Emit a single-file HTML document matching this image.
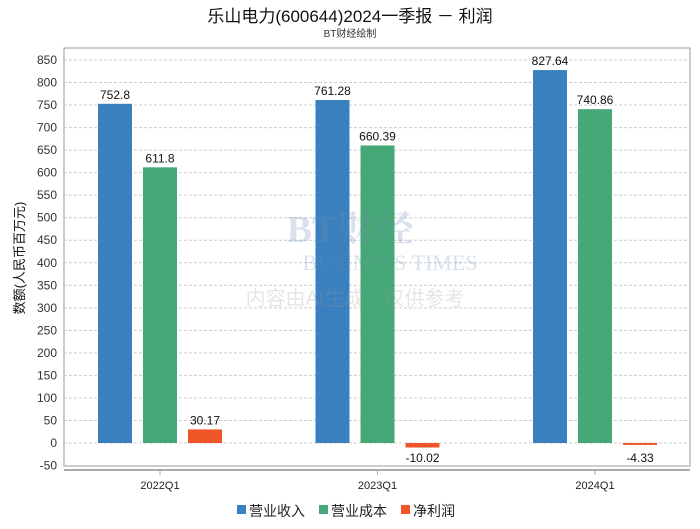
<!DOCTYPE html>
<html><head><meta charset="utf-8"><style>
body{margin:0;background:#fff;width:700px;height:524px;overflow:hidden;font-family:"Liberation Sans","Noto Sans CJK SC",sans-serif;}
</style></head><body>
<svg id="c" width="700" height="524" xmlns="http://www.w3.org/2000/svg" font-family="Liberation Sans, Noto Sans CJK SC, sans-serif">
<text x="350" y="22" text-anchor="middle" font-size="17" fill="#111">乐山电力(600644)2024一季报 － 利润</text>
<text x="350" y="37" text-anchor="middle" font-size="10" fill="#333">BT财经绘制</text>
<rect x="64" y="48" width="626" height="418" fill="none" stroke="#999"/>
<line x1="64" y1="470" x2="690" y2="470" stroke="#aaa" stroke-width="2"/>
<g id="grid"></g><g id="bars"></g>
<g opacity="0.25">
<text x="350" y="242" text-anchor="middle" font-size="38" fill="#6a8fb5" font-family="Liberation Serif, Noto Serif CJK SC, serif" font-weight="bold">BT财经</text>
<text x="390" y="270" text-anchor="middle" font-size="22" fill="#6a8fb5" font-family="Liberation Serif, serif">BUSINESS TIMES</text>
<text x="355" y="305" text-anchor="middle" font-size="20" fill="#999">内容由AI生成，仅供参考</text>
</g>
<text transform="translate(24,258) rotate(-90)" text-anchor="middle" font-size="13" fill="#111">数额(人民币百万元)</text>
<g font-size="14" fill="#222">
<rect x="237" y="505" width="9" height="9" fill="#3a80be"/><text x="249" y="516">营业收入</text>
<rect x="319" y="505" width="9" height="9" fill="#45a876"/><text x="331" y="516">营业成本</text>
<rect x="401" y="505" width="9" height="9" fill="#f05527"/><text x="413" y="516">净利润</text>
</g>
</svg>
<script>
const categories=["2022Q1","2023Q1","2024Q1"];
const revenue=[752.8,761.28,827.64];
const cost=[611.8,660.39,740.86];
const profit=[30.17,-10.02,-4.33];
const revenueLabels=["752.8","761.28","827.64"];
const costLabels=["611.8","660.39","740.86"];
const profitLabels=["30.17","-10.02","-4.33"];
const yTicks=[-50,0,50,100,150,200,250,300,350,400,450,500,550,600,650,700,750,800,850];
const NS="http://www.w3.org/2000/svg";
function y(v){return 443-v*(383/850);}
function gx(i){return 160+i*217.5;}
const grid=document.getElementById('grid'),bars=document.getElementById('bars');
function mk(tag,attrs,parent){const e=document.createElementNS(NS,tag);for(const k in attrs)e.setAttribute(k,attrs[k]);parent.appendChild(e);return e;}
yTicks.forEach(t=>{
 const l=mk('line',{x1:64,x2:690,y1:y(t),y2:y(t),stroke:'#ccc','stroke-dasharray':'3,2'},grid);
 
 
 const tx=mk('text',{x:57,y:y(t)+4,'text-anchor':'end','font-size':12,fill:'#333'},grid);
 tx.textContent=t;
 
 
});
const series=[[revenue,revenueLabels,'#3a80be',-45,'revenue'],[cost,costLabels,'#45a876',0,'cost'],[profit,profitLabels,'#f05527',45,'profit']];
categories.forEach((c,i)=>{
 series.forEach(s=>{
  const v=s[0][i],cx=gx(i)+s[3];
  const top=Math.min(y(v),y(0)),h=Math.max(Math.abs(y(v)-y(0)),1);
  const r=mk('rect',{x:cx-17,y:top,width:34,height:h,fill:s[2]},bars);
  
  
  const t=mk('text',{x:cx,y:v>=0?y(v)-5:y(0)+19,'text-anchor':'middle','font-size':12,fill:'#111'},bars);
  t.textContent=s[1][i];
  
  
 });
 const tk=mk('line',{x1:gx(i),x2:gx(i),y1:470,y2:475,stroke:'#aaa'},bars);
 
 
 const xl=mk('text',{x:gx(i),y:489,'text-anchor':'middle','font-size':11,fill:'#222'},bars);
 xl.textContent=c;
 
 
});
</script>
</body></html>
